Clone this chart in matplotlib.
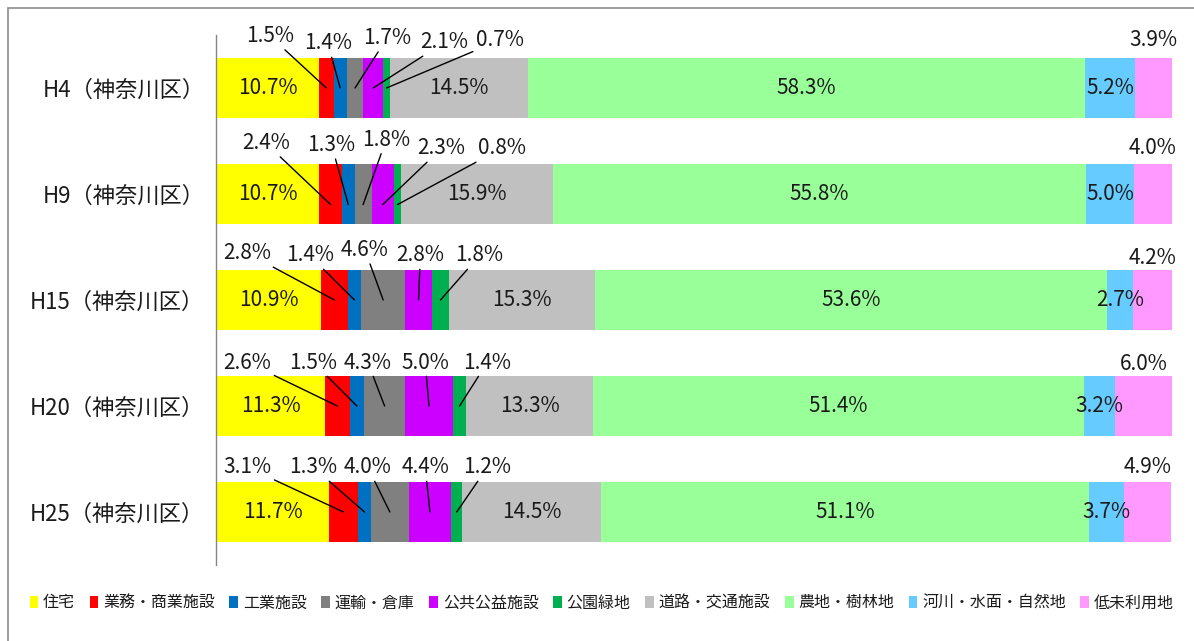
import matplotlib
matplotlib.use("Agg")
import matplotlib.pyplot as plt
import numpy as np
from matplotlib.patches import Rectangle

plt.rcParams["font.family"] = ["Noto Sans CJK JP", "DejaVu Sans"]

# ---- data ----
periods = ["H4（神奈川区）", "H9（神奈川区）", "H15（神奈川区）", "H20（神奈川区）", "H25（神奈川区）"]
categories = ["住宅", "業務・商業施設", "工業施設", "運輸・倉庫", "公共公益施設",
              "公園緑地", "道路・交通施設", "農地・樹林地", "河川・水面・自然地", "低未利用地"]
colors = ["#FFFF00", "#FF0000", "#0070C0", "#808080", "#CC00FF",
          "#00B050", "#C0C0C0", "#99FF99", "#66CCFF", "#FF99FF"]

h4 = [10.7, 1.5, 1.4, 1.7, 2.1, 0.7, 14.5, 58.3, 5.2, 3.9]
h9 = [10.7, 2.4, 1.3, 1.8, 2.3, 0.8, 15.9, 55.8, 5.0, 4.0]
h15 = [10.9, 2.8, 1.4, 4.6, 2.8, 1.8, 15.3, 53.6, 2.7, 4.2]
h20 = [11.3, 2.6, 1.5, 4.3, 5.0, 1.4, 13.3, 51.4, 3.2, 6.0]
h25 = [11.7, 3.1, 1.3, 4.0, 4.4, 1.2, 14.5, 51.1, 3.7, 4.9]
shares = np.array([h4, h9, h15, h20, h25])

# ---- layout of the callout labels (categories 1..5), x in %, dy in bar units ----
callout_x = [[5.55, 11.6, 17.8, 23.8, 29.6],
             [5.1, 12.0, 17.7, 23.5, 29.8],
             [3.2, 9.7, 15.5, 21.3, 27.5],
             [3.2, 10.1, 15.8, 21.8, 28.3],
             [3.2, 10.1, 15.8, 21.8, 28.3]]
callout_dy = [[-0.49, -0.42, -0.47, -0.43, -0.45],
              [-0.48, -0.46, -0.51, -0.43, -0.43],
              [-0.44, -0.42, -0.47, -0.42, -0.42],
              [-0.41, -0.41, -0.41, -0.41, -0.41],
              [-0.42, -0.42, -0.42, -0.42, -0.42]]
end_dy = [0.0, 0.1, 0.0, 0.0, 0.0]
top_dy = [-0.45, -0.43, -0.40, -0.40, -0.42]

TXT = "#1a1a1a"
FS = 15

fig = plt.figure(figsize=(11.94, 6.41), dpi=100)
ax = fig.add_axes([217 / 1194, 1 - 565 / 641, (1172 - 217) / 1194, 530 / 641])

y = np.arange(len(periods))
left = np.zeros(len(periods))
for j, (cat, col) in enumerate(zip(categories, colors)):
    ax.barh(y, shares[:, j], left=left, height=0.575, color=col, label=cat, linewidth=0)
    left += shares[:, j]

starts = np.cumsum(shares, axis=1) - shares
for i in range(len(periods)):
    for j in range(len(categories)):
        v = shares[i, j]
        cx = starts[i, j] + v / 2
        lab = f"{v:.1f}%"
        if j in (0, 6, 7, 8):
            ax.text(cx, i, lab, ha="center", va="center", fontsize=FS, color=TXT)
        elif j == 9:
            ax.text(cx, i + top_dy[i], lab, ha="center", va="center", fontsize=FS, color=TXT)
        else:
            k = j - 1
            ax.annotate(lab, xy=(cx, i + end_dy[i]),
                        xytext=(callout_x[i][k], i + callout_dy[i][k]),
                        ha="center", va="center", fontsize=FS, color=TXT,
                        arrowprops=dict(arrowstyle="-", color="black", lw=1,
                                        shrinkA=0, shrinkB=0))

ax.set_xlim(0, 100)
ax.set_ylim(4.5, -0.5)
ax.set_yticks(y)
ax.set_yticklabels(periods)
ax.tick_params(axis="y", length=0, pad=8, labelsize=16, labelcolor=TXT)
ax.set_xticks([])
for s in ("top", "right", "bottom"):
    ax.spines[s].set_visible(False)
ax.spines["left"].set_color("#868686")
ax.spines["left"].set_linewidth(1)
ax.spines["left"].set_position(("outward", 1))

fig.legend(loc="center", bbox_to_anchor=(0.504, 1 - 603 / 641), ncol=10, frameon=False,
           fontsize=11.5, handlelength=0.55, handleheight=0.75, handletextpad=0.3,
           columnspacing=0.9, labelcolor=TXT)

fig.patches.append(Rectangle((8 / 1194, -0.1), 1.2, 1.1 - 8 / 641, transform=fig.transFigure,
                             fill=False, edgecolor="#8c8c8c", linewidth=1.2))

fig.savefig("out.png", dpi=100)
